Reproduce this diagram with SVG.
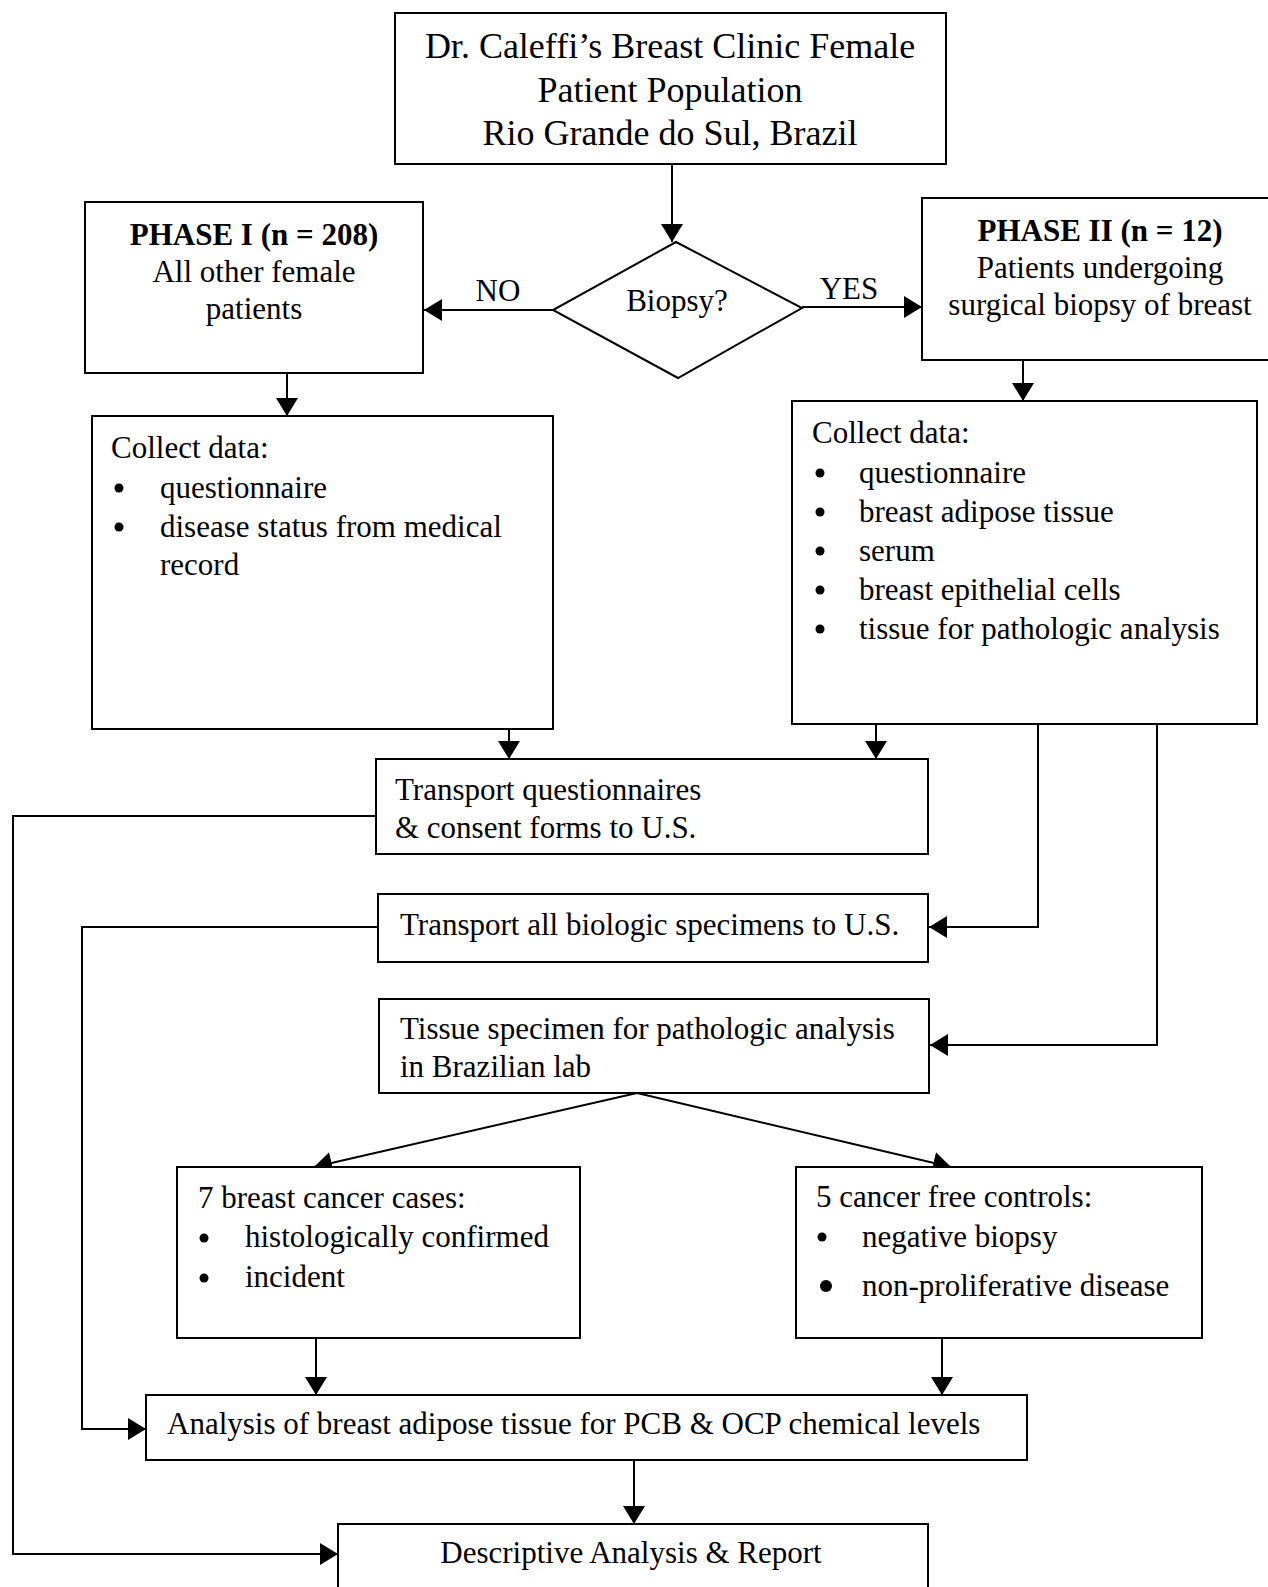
<svg xmlns="http://www.w3.org/2000/svg" width="1268" height="1587" viewBox="0 0 1268 1587">
<style>
  .box { fill: #fff; stroke: #000; stroke-width: 2; }
  .t { font-family: "Liberation Serif", "Times New Roman", serif; font-size: 31px; fill: #000; }
  .title { font-family: "Liberation Serif", "Times New Roman", serif; font-size: 36px; fill: #000; }
  .b { font-weight: bold; }
  .c { text-anchor: middle; }
  .ln { fill: none; stroke: #000; stroke-width: 2; }
  .arr { marker-end: url(#ah); }
</style>
<defs>
  <marker id="ah" markerUnits="userSpaceOnUse" markerWidth="20" markerHeight="22" refX="18" refY="11" orient="auto">
    <path d="M0,0 L18,11 L0,22 Z" fill="#000"/>
  </marker>
</defs>
<rect width="1268" height="1587" fill="#fff"/>

<g id="connectors">
  <line class="ln arr" x1="672" y1="164" x2="672" y2="242"/>
  <line class="ln arr" x1="553" y1="310" x2="424" y2="310"/>
  <line class="ln arr" x1="802" y1="307" x2="922" y2="307"/>
  <line class="ln arr" x1="287" y1="373" x2="287" y2="416"/>
  <line class="ln arr" x1="1023" y1="360" x2="1023" y2="401"/>
  <line class="ln arr" x1="509" y1="729" x2="509" y2="759"/>
  <line class="ln arr" x1="876" y1="724" x2="876" y2="759"/>
  <polyline class="ln arr" points="1038,724 1038,927 929,927"/>
  <polyline class="ln arr" points="1157,724 1157,1045 930,1045"/>
  <line class="ln arr" x1="637" y1="1093" x2="314" y2="1167"/>
  <line class="ln arr" x1="637" y1="1093" x2="951" y2="1167"/>
  <line class="ln arr" x1="316" y1="1338" x2="316" y2="1395"/>
  <line class="ln arr" x1="942" y1="1338" x2="942" y2="1395"/>
  <line class="ln arr" x1="634" y1="1460" x2="634" y2="1524"/>
  <polyline class="ln arr" points="376,816 13,816 13,1554 338,1554"/>
  <polyline class="ln arr" points="378,927 82,927 82,1429 146,1429"/>
  <text class="t c" x="498" y="301">NO</text>
  <text class="t c" x="849" y="299">YES</text>
</g>

<g id="population">
  <rect class="box" x="395" y="13" width="551" height="151"/>
  <text class="title c" x="670" y="58">Dr. Caleffi’s Breast Clinic Female</text>
  <text class="title c" x="670" y="102">Patient Population</text>
  <text class="title c" x="670" y="145">Rio Grande do Sul, Brazil</text>
</g>

<g id="biopsy">
  <polygon class="box" points="676,242 802,308 678,378 553,310"/>
  <text class="t c" x="677" y="311">Biopsy?</text>
</g>

<g id="phase1">
  <rect class="box" x="85" y="202" width="338" height="171"/>
  <text class="t c b" x="254" y="245">PHASE I (n = 208)</text>
  <text class="t c" x="254" y="282">All other female</text>
  <text class="t c" x="254" y="319">patients</text>
</g>

<g id="phase2">
  <rect class="box" x="922" y="198" width="360" height="162"/>
  <text class="t c b" x="1100" y="241">PHASE II (n = 12)</text>
  <text class="t c" x="1100" y="278">Patients undergoing</text>
  <text class="t c" x="1100" y="315">surgical biopsy of breast</text>
</g>

<g id="collect1">
  <rect class="box" x="92" y="416" width="461" height="313"/>
  <text class="t" x="111" y="458">Collect data:</text>
  <circle cx="119" cy="488" r="4.5"/>
  <text class="t" x="160" y="498">questionnaire</text>
  <circle cx="119" cy="527" r="4.5"/>
  <text class="t" x="160" y="537">disease status from medical</text>
  <text class="t" x="160" y="575">record</text>
</g>

<g id="collect2">
  <rect class="box" x="792" y="401" width="465" height="323"/>
  <text class="t" x="812" y="443">Collect data:</text>
  <circle cx="820" cy="473" r="4.5"/>
  <text class="t" x="859" y="483">questionnaire</text>
  <circle cx="820" cy="512" r="4.5"/>
  <text class="t" x="859" y="522">breast adipose tissue</text>
  <circle cx="820" cy="551" r="4.5"/>
  <text class="t" x="859" y="561">serum</text>
  <circle cx="820" cy="590" r="4.5"/>
  <text class="t" x="859" y="600">breast epithelial cells</text>
  <circle cx="820" cy="629" r="4.5"/>
  <text class="t" x="859" y="639">tissue for pathologic analysis</text>
</g>

<g id="transport-questionnaires">
  <rect class="box" x="376" y="759" width="552" height="95"/>
  <text class="t" x="395" y="800">Transport questionnaires</text>
  <text class="t" x="395" y="838">&amp; consent forms to U.S.</text>
</g>

<g id="transport-specimens">
  <rect class="box" x="378" y="894" width="550" height="68"/>
  <text class="t" x="400" y="935">Transport all biologic specimens to U.S.</text>
</g>

<g id="tissue">
  <rect class="box" x="379" y="999" width="550" height="94"/>
  <text class="t" x="400" y="1039">Tissue specimen for pathologic analysis</text>
  <text class="t" x="400" y="1077">in Brazilian lab</text>
</g>

<g id="cases">
  <rect class="box" x="177" y="1167" width="403" height="171"/>
  <text class="t" x="198" y="1208">7 breast cancer cases:</text>
  <circle cx="204" cy="1238" r="4.5"/>
  <text class="t" x="245" y="1247">histologically confirmed</text>
  <circle cx="204" cy="1278" r="4.5"/>
  <text class="t" x="245" y="1287">incident</text>
</g>

<g id="controls">
  <rect class="box" x="796" y="1167" width="406" height="171"/>
  <text class="t" x="816" y="1207">5 cancer free controls:</text>
  <circle cx="822" cy="1237" r="4.5"/>
  <text class="t" x="862" y="1247">negative biopsy</text>
  <circle cx="826" cy="1286" r="6"/>
  <text class="t" x="862" y="1296">non-proliferative disease</text>
</g>

<g id="analysis">
  <rect class="box" x="146" y="1395" width="881" height="65"/>
  <text class="t" x="167" y="1434">Analysis of breast adipose tissue for PCB &amp; OCP chemical levels</text>
</g>

<g id="report">
  <rect class="box" x="338" y="1524" width="590" height="80"/>
  <text class="t c" x="631" y="1563">Descriptive Analysis &amp; Report</text>
</g>
</svg>
